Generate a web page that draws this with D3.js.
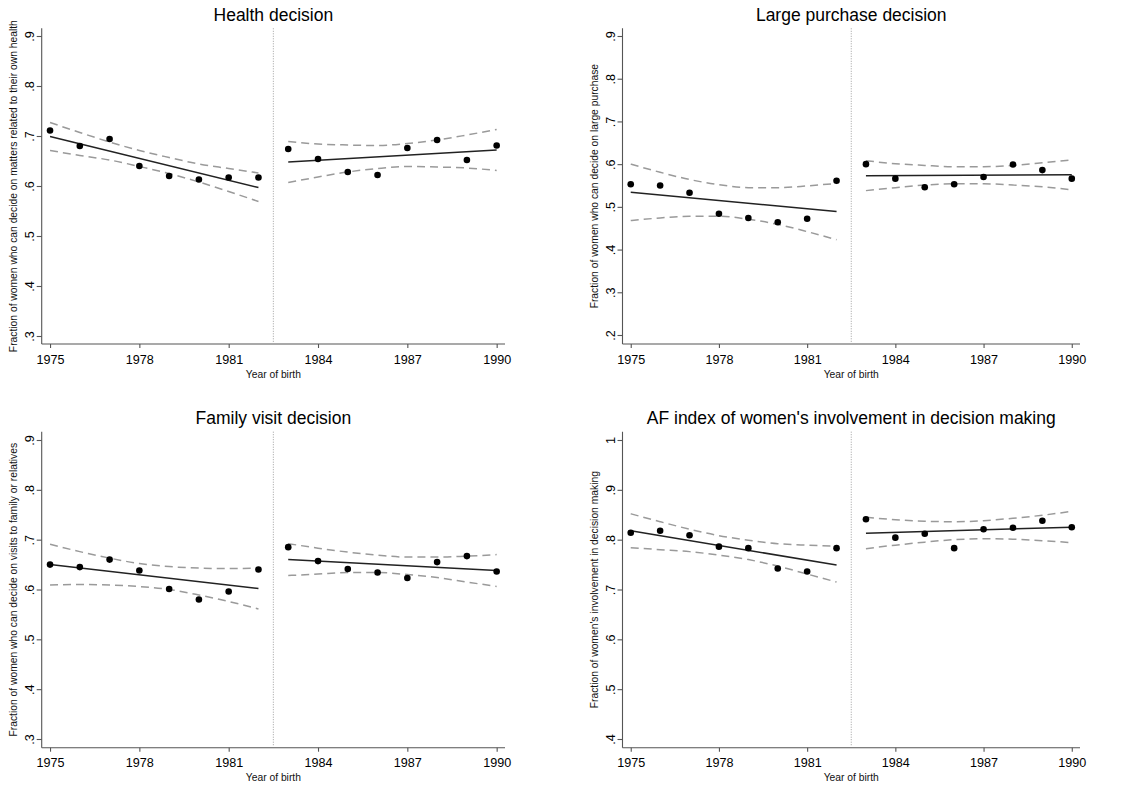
<!DOCTYPE html>
<html>
<head>
<meta charset="utf-8">
<script src="https://cdn.jsdelivr.net/npm/d3@7"></script>
<style>
  body { margin: 0; background: #fff; }
  svg { font-family: "Liberation Sans", Arial, Helvetica, sans-serif; }
  .title { font-size: 17.5px; fill: #000; }
  .aText { font-size: 10.3px; fill: #111; }
</style>
</head>
<body>
<div id="chart"></div>
<script>
// Birth-year cohorts, split at the 1982/1983 cut-off
var yearsPre = [1975, 1976, 1977, 1978, 1979, 1980, 1981, 1982];
var yearsPost = [1983, 1984, 1985, 1986, 1987, 1988, 1989, 1990];
var xTicks = [1975, 1978, 1981, 1984, 1987, 1990];
var cutoff = 1982.5;

var titles = [
  "Health decision",
  "Large purchase decision",
  "Family visit decision",
  "AF index of women's involvement in decision making"
];
var yLabels = [
  "Fraction of women who can decide on matters related to their own health",
  "Fraction of women who can decide on large purchase",
  "Fraction of women who can decide on visits to family or relatives",
  "Fraction of women's involvement in decision making"
];
var yTicks = [
  [0.3, 0.4, 0.5, 0.6, 0.7, 0.8, 0.9],
  [0.2, 0.3, 0.4, 0.5, 0.6, 0.7, 0.8, 0.9],
  [0.3, 0.4, 0.5, 0.6, 0.7, 0.8, 0.9],
  [0.4, 0.5, 0.6, 0.7, 0.8, 0.9, 1.0]
];

// Cohort means (dots)
var healthPts = [0.711, 0.680, 0.694, 0.640, 0.620, 0.613, 0.617, 0.617,
                 0.674, 0.654, 0.628, 0.622, 0.676, 0.692, 0.652, 0.681];
var purchasePts = [0.553, 0.550, 0.533, 0.484, 0.474, 0.464, 0.472, 0.561,
                   0.600, 0.566, 0.546, 0.553, 0.570, 0.599, 0.586, 0.566];
var visitPts = [0.650, 0.645, 0.660, 0.638, 0.601, 0.580, 0.596, 0.640,
                0.685, 0.657, 0.641, 0.634, 0.623, 0.655, 0.667, 0.636];
var afPts = [0.814, 0.818, 0.809, 0.786, 0.783, 0.742, 0.736, 0.783,
             0.841, 0.804, 0.812, 0.783, 0.821, 0.824, 0.838, 0.825];

// Linear fit end points [pre start, pre end, post start, post end]
var healthFit = [0.699, 0.597, 0.648, 0.672];
var purchaseFit = [0.534, 0.489, 0.573, 0.575];
var visitFit = [0.650, 0.602, 0.660, 0.638];
var afFit = [0.818, 0.749, 0.813, 0.825];

// 95% CI bands, one value per cohort year
var healthUp = [0.727, 0.707, 0.688, 0.671, 0.657, 0.644, 0.635, 0.626,
                0.689, 0.684, 0.682, 0.681, 0.685, 0.692, 0.702, 0.713];
var healthLo = [0.671, 0.661, 0.652, 0.639, 0.625, 0.608, 0.589, 0.569,
                0.607, 0.618, 0.628, 0.635, 0.639, 0.638, 0.636, 0.631];
var purchaseUp = [0.600, 0.581, 0.564, 0.552, 0.545, 0.545, 0.549, 0.555,
                  0.608, 0.601, 0.597, 0.594, 0.594, 0.597, 0.603, 0.610];
var purchaseLo = [0.468, 0.474, 0.478, 0.478, 0.471, 0.459, 0.442, 0.423,
                  0.538, 0.545, 0.551, 0.554, 0.554, 0.551, 0.547, 0.540];
var visitUp = [0.691, 0.676, 0.663, 0.652, 0.646, 0.643, 0.642, 0.643,
               0.692, 0.683, 0.675, 0.669, 0.665, 0.665, 0.667, 0.670];
var visitLo = [0.609, 0.610, 0.609, 0.606, 0.600, 0.589, 0.576, 0.561,
               0.628, 0.631, 0.634, 0.634, 0.630, 0.624, 0.615, 0.606];
var afUp = [0.852, 0.836, 0.821, 0.808, 0.799, 0.792, 0.789, 0.787,
            0.845, 0.840, 0.837, 0.836, 0.838, 0.843, 0.849, 0.857];
var afLo = [0.784, 0.780, 0.776, 0.769, 0.760, 0.747, 0.731, 0.715,
            0.782, 0.789, 0.795, 0.800, 0.802, 0.801, 0.798, 0.794];

var points = [healthPts, purchasePts, visitPts, afPts];
var fits = [healthFit, purchaseFit, visitFit, afFit];
var ciUp = [healthUp, purchaseUp, visitUp, afUp];
var ciLo = [healthLo, purchaseLo, visitLo, afLo];

var svgWidth = 1131;
var svgHeight = 786;

var svg = d3.select("#chart")
  .append("svg")
  .attr("width", svgWidth)
  .attr("height", svgHeight);

// Panel frames: pixel extent of each plot region
var colX = [[41.7, 505], [622.5, 1080]];
var rowY = [[28.3, 344], [431.7, 747.7]];
// pixel rows of the top tick and bottom tick of each panel
var tickPix = [[36, 336], [36, 335], [440, 739], [440, 739]];

var allYears = yearsPre.concat(yearsPost);
var fontFam = '"Liberation Sans", Arial, Helvetica, sans-serif';

function drawPanel(i) {
  var col = i % 2, row = Math.floor(i / 2);
  var x0 = colX[col][0], x1 = colX[col][1];
  var y0 = rowY[row][0], y1 = rowY[row][1];
  var ticks = yTicks[i];
  var tLo = ticks[0], tHi = ticks[ticks.length - 1];

  // x scale: 1975 sits a few px in from the axis start
  var pad = (x1 - x0) * 0.28 / 15.56;
  var xScale = d3.scaleLinear()
    .domain([1975, 1990])
    .range([x0 + pad, x1 - pad]);

  var yScale = d3.scaleLinear()
    .domain([tLo, tHi])
    .range([tickPix[i][1], tickPix[i][0]]);

  var g = svg.append("g");

  // axes
  var xAxis = d3.axisBottom(xScale)
    .tickValues(xTicks)
    .tickFormat(d3.format("d"))
    .tickSize(4)
    .tickSizeOuter(0);
  var gx = g.append("g")
    .attr("transform", `translate(0, ${y1})`)
    .call(xAxis)
    .attr("font-size", 12.6)
    .attr("font-family", fontFam);
  gx.select(".domain").attr("d", `M${x0},0H${x1}`);
  gx.selectAll(".tick text").attr("y", 8).attr("dy", "0.92em").attr("fill", "#000");

  var yAxis = d3.axisLeft(yScale)
    .tickValues(ticks)
    .tickFormat(d => d === 1 ? "1" : d3.format(".1f")(d).replace(/^0/, ""))
    .tickSize(5)
    .tickSizeOuter(0);
  var gy = g.append("g")
    .attr("transform", `translate(${x0}, 0)`)
    .call(yAxis)
    .attr("font-size", 12.6)
    .attr("font-family", fontFam);
  gy.select(".domain").attr("d", `M0,${y0}V${y1}`);
  gy.selectAll(".tick text")
    .attr("x", null).attr("dy", null)
    .attr("fill", "#000")
    .attr("text-anchor", "middle")
    .attr("transform", "translate(-8,0) rotate(-90)");

  g.selectAll(".domain, .tick line")
    .attr("stroke", "#555")
    .attr("stroke-width", 1.1);

  // cutoff line
  g.append("line")
    .attr("x1", xScale(cutoff)).attr("x2", xScale(cutoff))
    .attr("y1", y0).attr("y2", y1 - 2)
    .attr("stroke", "#888")
    .attr("stroke-width", 0.8)
    .attr("stroke-dasharray", "1,1.5");

  var ciLine = d3.line()
    .x(d => xScale(d[0]))
    .y(d => yScale(d[1]))
    .curve(d3.curveMonotoneX);

  [[0, 8], [8, 16]].forEach(function(seg) {
    var yrs = allYears.slice(seg[0], seg[1]);
    [ciUp[i], ciLo[i]].forEach(function(band) {
      g.append("path")
        .datum(yrs.map((y, k) => [y, band[seg[0] + k]]))
        .attr("d", ciLine)
        .attr("fill", "none")
        .attr("stroke", "#9a9a9a")
        .attr("stroke-width", 1.5)
        .attr("stroke-dasharray", "8,5");
    });
  });

  // fit lines
  var f = fits[i];
  [[yearsPre[0], f[0], yearsPre[7], f[1]], [yearsPost[0], f[2], yearsPost[7], f[3]]]
    .forEach(function(s) {
      g.append("line")
        .attr("x1", xScale(s[0])).attr("y1", yScale(s[1]))
        .attr("x2", xScale(s[2])).attr("y2", yScale(s[3]))
        .attr("stroke", "#222")
        .attr("stroke-width", 1.5);
    });

  // dots
  g.selectAll("circle.pt")
    .data(allYears.map((y, k) => [y, points[i][k]]))
    .enter()
    .append("circle")
    .attr("class", "pt")
    .attr("cx", d => xScale(d[0]))
    .attr("cy", d => yScale(d[1]))
    .attr("r", 3.3)
    .attr("fill", "#000");

  // title
  g.append("text")
    .attr("class", "title")
    .attr("x", (x0 + x1) / 2)
    .attr("y", row === 0 ? 20.5 : 424.3)
    .attr("text-anchor", "middle")
    .text(titles[i]);

  // x axis name
  g.append("text")
    .attr("class", "aText")
    .attr("x", (x0 + x1) / 2)
    .attr("y", y1 + 33.5)
    .attr("text-anchor", "middle")
    .text("Year of birth");

  // y axis name
  g.append("text")
    .attr("class", "aText")
    .attr("transform", `translate(${x0 - 25}, ${(y0 + y1) / 2}) rotate(-90)`)
    .attr("text-anchor", "middle")
    .text(yLabels[i]);
}

for (var i = 0; i < 4; i++) drawPanel(i);
</script>
</body>
</html>
